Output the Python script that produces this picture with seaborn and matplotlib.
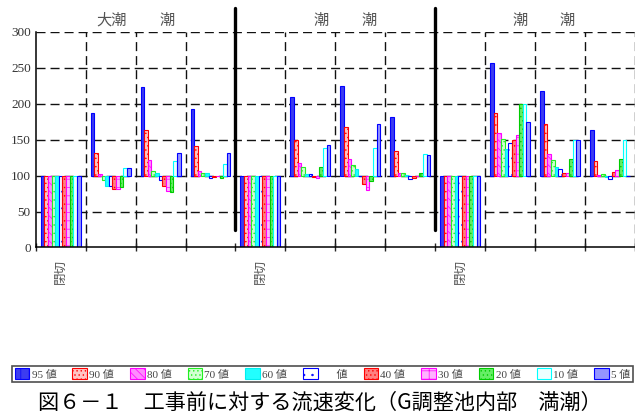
import numpy as np
import pandas as pd
import matplotlib
matplotlib.use("Agg")
import matplotlib.pyplot as plt
import seaborn as sns
from matplotlib.ticker import FixedLocator

# 12 slots along x, 11 percentile series (ratio to pre-construction, %)
slots = list(range(12))
slot_labels = ["閉切", "", "", "", "閉切", "", "", "", "閉切", "", "", ""]
series = ["95 値", "90 値", "80 値", "70 値", "60 値", "      値",
          "40 値", "30 値", "20 値", "10 値", "5 値"]

v95 = [0, 187, 223, 193, 0, 209, 224, 181, 0, 257, 218, 163]
v90 = [0, 131, 164, 141, 0, 149, 167, 134, 0, 187, 172, 120]
v80 = [0, 102, 121, 107, 0, 118, 123, 104, 0, 159, 130, 101]
v70 = [0, 94, 107, 103, 0, 112, 115, 103, 0, 151, 122, 102]
v60 = [0, 86, 104, 103, 0, 102, 109, 101, 0, 137, 112, 98]
v50 = [0, 86, 94, 97, 0, 102, 100, 95, 0, 145, 109, 95]
v40 = [0, 82, 85, 98, 0, 98, 88, 97, 0, 149, 103, 105]
v30 = [0, 81, 78, 99, 0, 97, 80, 99, 0, 156, 104, 108]
v20 = [0, 84, 77, 96, 0, 112, 93, 103, 0, 200, 123, 123]
v10 = [0, 110, 120, 116, 0, 139, 139, 130, 0, 200, 150, 150]
v05 = [0, 110, 131, 131, 0, 143, 171, 129, 0, 175, 150, 100]
values = [v95, v90, v80, v70, v60, v50, v40, v30, v20, v10, v05]

base = 100

# header texts above the plot
head_texts = ["大潮", "潮", "潮", "潮", "潮", "潮"]
head_x = [1.02, 2.13, 5.21, 6.17, 9.2, 10.15]

caption = "図６－１　工事前に対する流速変化（G調整池内部　満潮）"

# bar styles
faces = ["#3c3cf0", "#ffc4c4", "#ff8cff", "#d2ffd2", "#22ffff", "#ffffff",
         "#ff8080", "#ffb4ff", "#66ee66", "#eeffff", "#9494ff"]
edges = ["#0000ff", "#ff0000", "#ff00ff", "#22ee22", "#00eeee", "#0000ff",
         "#ff0000", "#ff00ff", "#00cc00", "#00ffff", "#0000ff"]
hatches = ["||", "....", "\\\\\\\\", "....", "", "..",
           "....", "++", "....", "", ""]

df = pd.DataFrame({
    "slot": np.tile(slots, len(series)),
    "series": np.repeat(series, len(slots)),
    "value": np.concatenate(values),
})
df["rise"] = df["value"] - base

sns.set_style("white")
plt.rcParams["font.family"] = ["Liberation Serif", "Noto Sans CJK JP"]
plt.rcParams["hatch.linewidth"] = 0.5

fig = plt.figure(figsize=(6.35, 4.17), dpi=100)
ax = fig.add_axes([0.0562, 0.4065, 0.9438, 0.5175])

sns.barplot(data=df, x="slot", y="rise", hue="series", order=slots,
            hue_order=series, palette=faces, bottom=base, width=0.8,
            errorbar=None, saturation=1, legend=False, ax=ax)

for cont, fc, ec, ht in zip(ax.containers, faces, edges, hatches):
    for p in cont:
        p.set_facecolor(fc)
        p.set_edgecolor(ec)
        p.set_hatch(ht)
        p.set_linewidth(0.8)

ax.set_xlim(-0.5, 11.5)
ax.set_ylim(0, 300)
ax.set_xlabel("")
ax.set_ylabel("")

# grid
dash = (0, (6.5, 3.6))
for yv in range(50, 301, 50):
    ax.axhline(yv, color="#111111", lw=1.0, ls=dash, zorder=0)
edges_x = [s + 0.5 for s in slots]
for i, xe in enumerate(edges_x):
    if (i + 1) % 4 == 0 and i < len(slots) - 1:
        ax.axvline(xe, ymin=0.083, ymax=1.11, color="black", lw=2.4,
                   clip_on=False, zorder=3)
    else:
        ax.axvline(xe, color="#111111", lw=1.0, ls=dash, zorder=0)

# axes and ticks
for s in ["top", "right"]:
    ax.spines[s].set_visible(False)
for s in ["left", "bottom"]:
    ax.spines[s].set_color("black")
    ax.spines[s].set_linewidth(1.1)

ax.set_yticks(range(0, 301, 50))
ax.tick_params(axis="y", direction="inout", length=5, width=1.0,
               labelsize=9.5, labelcolor="#333333", pad=1)
ax.set_xticks(slots)
ax.set_xticklabels(slot_labels, rotation=90, fontsize=9,
                   family=["Noto Sans CJK JP"], color="#555555")
ax.tick_params(axis="x", which="major", length=0, pad=8)
ax.xaxis.set_minor_locator(FixedLocator([-0.5] + edges_x))
ax.tick_params(axis="x", which="minor", direction="inout", length=6,
               width=1.0, bottom=True)

for t, xh in zip(head_texts, head_x):
    ax.text(xh, 316, t, ha="center", va="center", fontsize=11,
            color="#555555", family=["Noto Sans CJK JP"], clip_on=False)

leg = ax.legend(ax.containers, series, ncol=11, mode="expand",
                loc="center", bbox_to_anchor=(0.019, 0.079, 0.978, 0.048),
                bbox_transform=fig.transFigure, borderaxespad=0,
                fancybox=False, frameon=True, handlelength=1.3,
                handleheight=1.1, handletextpad=0.2, columnspacing=0.3,
                borderpad=0.25, prop={"size": 8})
leg.get_frame().set_edgecolor("#222222")
leg.get_frame().set_linewidth(1.2)
for t in leg.get_texts():
    t.set_color("#444444")

fig.text(0.504, 1 - 403 / 417, caption, ha="center", va="center",
         fontsize=15.2, family=["Noto Sans CJK JP"], color="black")

fig.savefig("out.png", dpi=100)
